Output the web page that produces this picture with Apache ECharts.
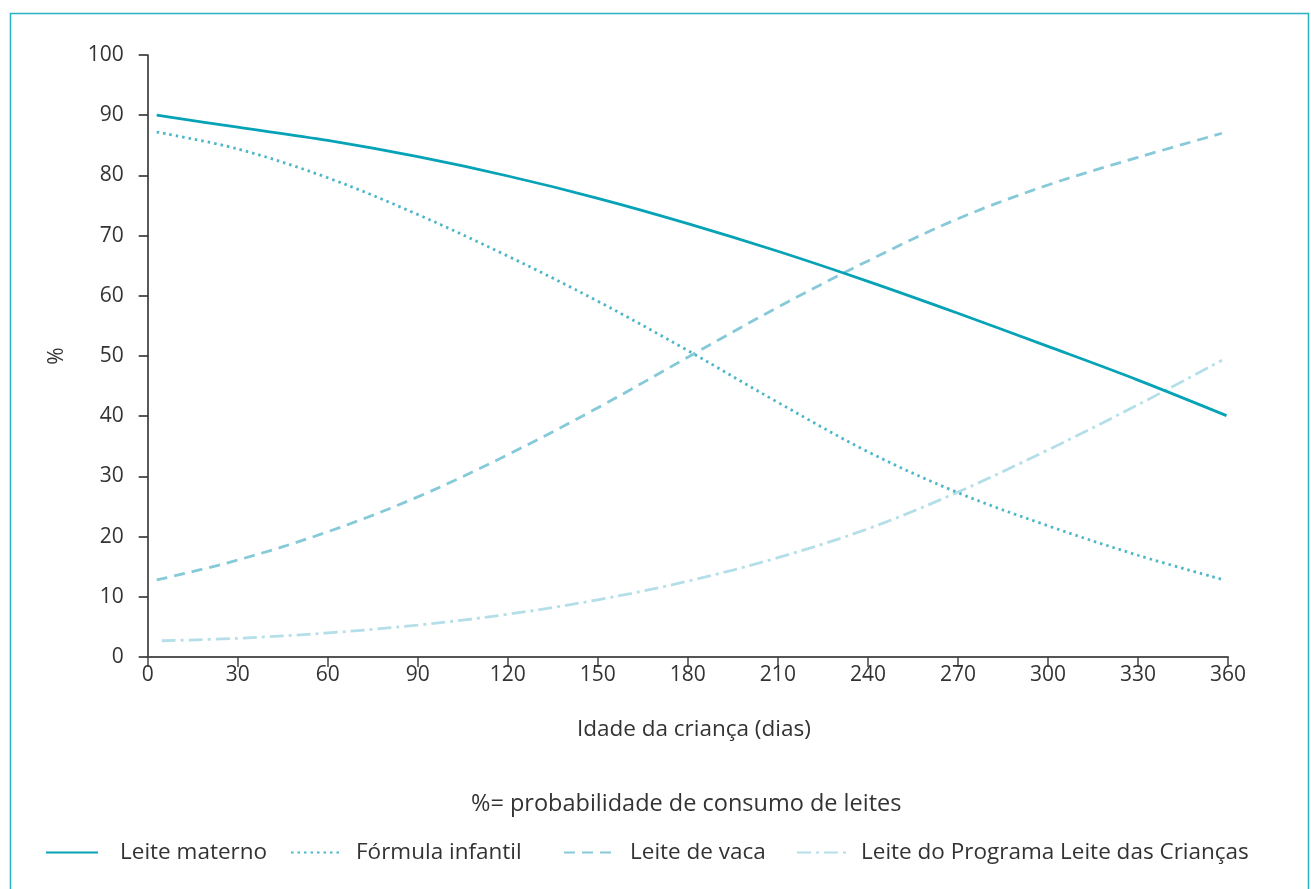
<!DOCTYPE html>
<html>
<head>
<meta charset="utf-8">
<script src="https://cdn.jsdelivr.net/npm/echarts@6/dist/echarts.min.js"></script>
<style>
html,body{margin:0;padding:0;background:#fff;}
#chart{width:1311px;height:889px;}
</style>
</head>
<body>
<div id="chart"></div>
<script>
var seriesNames = ['Leite materno', 'Fórmula infantil', 'Leite de vaca', 'Leite do Programa Leite das Crianças'];
var xTicks = [0, 30, 60, 90, 120, 150, 180, 210, 240, 270, 300, 330, 360];
var yTicks = [0, 10, 20, 30, 40, 50, 60, 70, 80, 90, 100];

var diasMaterno  = [3, 30, 60, 90, 120, 150, 180, 210, 240, 270, 300, 330, 359.5];
var leiteMaterno = [90.0, 88.0, 85.8, 83.1, 79.9, 76.2, 72.0, 67.4, 62.4, 57.1, 51.6, 46.0, 40.1];

var diasFormula     = [3, 30, 60, 90, 120, 150, 180, 210, 240, 270, 300, 330, 358];
var formulaInfantil = [87.2, 84.4, 79.6, 73.5, 66.6, 59.1, 50.9, 42.3, 34.1, 27.3, 21.8, 16.9, 12.9];

var diasVaca   = [3, 30, 60, 90, 120, 150, 180, 210, 240, 270, 300, 330, 358];
var leiteVaca  = [12.8, 16.1, 20.8, 26.6, 33.6, 41.4, 49.8, 58.1, 65.8, 72.8, 78.4, 83.0, 87.0];

var diasPrograma  = [4.7, 30, 60, 90, 120, 150, 180, 210, 240, 270, 300, 330, 358];
var leitePrograma = [2.7, 3.1, 4.0, 5.3, 7.1, 9.5, 12.6, 16.5, 21.3, 27.4, 34.4, 41.9, 49.3];

function pairs(xs, ys) { return xs.map(function (x, i) { return [x, ys[i]]; }); }

var colors = ['#06a3b7', '#4db7c9', '#86cad9', '#b5dfe8'];
var FONT = 'Open Sans';

var chart = echarts.init(document.getElementById('chart'), null, {renderer: 'canvas'});

function legendAt(name, left, gap) {
  return {
    data: [name], left: left, top: 841, padding: 0,
    itemWidth: 52, itemHeight: 14,
    itemStyle: {color: 'rgba(0,0,0,0)', borderWidth: 0, opacity: 0},
    textStyle: {fontFamily: FONT, fontSize: 22.5, color: '#333', padding: [0, 0, 0, gap]},
    selectedMode: false
  };
}

chart.setOption({
  animation: false,
  backgroundColor: '#fff',
  textStyle: {fontFamily: FONT},
  grid: {left: 147.7, right: 83, top: 55, bottom: 232, containLabel: false},
  graphic: [
    {type: 'rect', shape: {x: 10.5, y: 13.5, width: 1298, height: 900},
     style: {fill: 'none', stroke: '#2bb0c1', lineWidth: 1.5}, silent: true},
    {type: 'text', left: 471, top: 792,
     style: {text: '%= probabilidade de consumo de leites', fontFamily: FONT, fontSize: 23.5, fill: '#333'}}
  ],
  legend: [
    legendAt(seriesNames[0], 45, 17),
    legendAt(seriesNames[1], 290, 8),
    legendAt(seriesNames[2], 563, 9),
    legendAt(seriesNames[3], 796, 7)
  ],
  xAxis: {
    type: 'value', min: 0, max: 360, interval: 30,
    name: 'Idade da criança (dias)', nameLocation: 'middle', nameGap: 61,
    nameTextStyle: {fontFamily: FONT, fontSize: 22.5, color: '#333', padding: [0, 0, 0, 12]},
    axisLine: {show: true, onZero: false, lineStyle: {color: '#555', width: 2}},
    axisTick: {show: true, length: 10, lineStyle: {color: '#444', width: 1.5}},
    axisLabel: {fontFamily: FONT, fontSize: 21, color: '#333', margin: 8,
      formatter: function (v) { return xTicks.indexOf(v) >= 0 ? String(v) : ''; }},
    splitLine: {show: false}
  },
  yAxis: {
    type: 'value', min: 0, max: 100, interval: 10,
    name: '%', nameLocation: 'middle', nameGap: 80, nameRotate: 90,
    nameTextStyle: {fontFamily: FONT, fontSize: 21, color: '#333'},
    axisLine: {show: true, lineStyle: {color: '#222', width: 1.5}},
    axisTick: {show: true, length: 9, lineStyle: {color: '#222', width: 1.5}},
    axisLabel: {fontFamily: FONT, fontSize: 21, color: '#333', margin: 24,
      formatter: function (v) { return yTicks.indexOf(v) >= 0 ? String(v) : ''; }},
    splitLine: {show: false}
  },
  series: [
    {name: seriesNames[0], type: 'line', smooth: 0.35, symbol: 'none', data: pairs(diasMaterno, leiteMaterno),
     lineStyle: {color: colors[0], width: 2.8, type: 'solid'}, itemStyle: {color: colors[0]}, z: 5},
    {name: seriesNames[1], type: 'line', smooth: 0.35, symbol: 'none', data: pairs(diasFormula, formulaInfantil),
     lineStyle: {color: colors[1], width: 2.8, type: [2.5, 4]}, itemStyle: {color: colors[1]}, z: 4},
    {name: seriesNames[2], type: 'line', smooth: 0.35, symbol: 'none', data: pairs(diasVaca, leiteVaca),
     lineStyle: {color: colors[2], width: 2.8, type: [11, 7]}, itemStyle: {color: colors[2]}, z: 3},
    {name: seriesNames[3], type: 'line', smooth: 0.35, symbol: 'none', data: pairs(diasPrograma, leitePrograma),
     lineStyle: {color: colors[3], width: 2.8, type: [14, 5, 3, 5]}, itemStyle: {color: colors[3]}, z: 2}
  ]
});
</script>
</body>
</html>
